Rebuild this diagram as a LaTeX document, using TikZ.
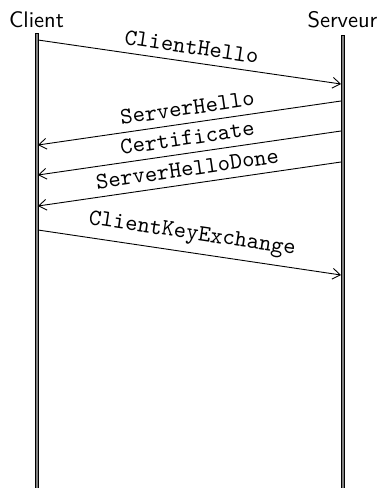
\documentclass[tikz,border=0pt]{standalone}
\usetikzlibrary{arrows.meta}
\begin{document}
\begin{tikzpicture}[x=0.4444pt, y=-0.4444pt,
  lifeline/.style={draw=black, fill=gray, line width=0.4pt},
  actor/.style={font=\sffamily, anchor=base, inner sep=0pt},
  msg/.style={-{Straight Barb[length=3.4pt, width=4.8pt]}, line width=0.4pt},
  msglabel/.style={font=\ttfamily\fontsize{10.4}{12}\selectfont, midway, above, sloped}]
  \useasboundingbox (0,0) rectangle (383,488);

  % participants
  \node[actor] (client) at (36.5,27) {Client};
  \node[actor] (server) at (342.5,27) {Serveur};

  % lifelines
  \draw[lifeline] (35,33) rectangle (38,489);
  \draw[lifeline] (341,35) rectangle (344,489);

  % message end points on the lifelines
  \coordinate (c1) at (38,40);   \coordinate (s1) at (341,84);
  \coordinate (s2) at (341,101); \coordinate (c2) at (38,145);
  \coordinate (s3) at (341,131); \coordinate (c3) at (38,175);
  \coordinate (s4) at (341,162); \coordinate (c4) at (38,206);
  \coordinate (c5) at (38,230);  \coordinate (s5) at (341,275);

  % handshake messages
  \draw[msg] (c1) -- node[msglabel] {ClientHello} (s1);
  \draw[msg] (s2) -- node[msglabel] {ServerHello} (c2);
  \draw[msg] (s3) -- node[msglabel] {Certificate} (c3);
  \draw[msg] (s4) -- node[msglabel] {ServerHelloDone} (c4);
  \draw[msg] (c5) -- node[msglabel] {ClientKeyExchange} (s5);
\end{tikzpicture}
\end{document}
